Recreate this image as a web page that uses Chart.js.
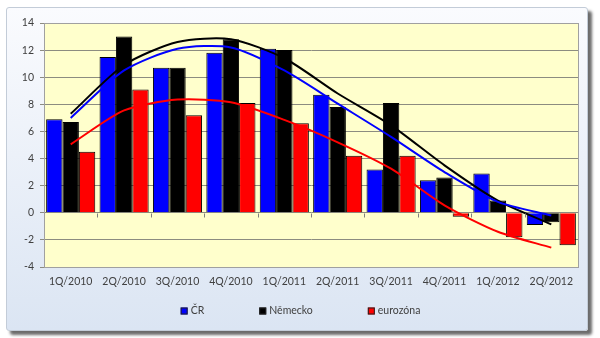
<!DOCTYPE html>
<html>
<head>
<meta charset="utf-8">
<script src="https://cdn.jsdelivr.net/npm/chart.js@4"></script>
<style>
  html, body { margin: 0; padding: 0; background: #fff; }
  #wrap { position: relative; width: 600px; height: 338px; }
  #frame {
    position: absolute; left: 6px; top: 7px; width: 580px; height: 322px;
    border: 1px solid #c3ccd8; border-radius: 3px;
    background: linear-gradient(#fafbfe, #dbe5f3);
    box-shadow: 4px 4px 3px #6b6b6b;
  }
  canvas { position: absolute; left: 0; top: 0; }
</style>
</head>
<body>
<div id="wrap">
  <div id="frame"></div>
  <canvas id="chart" width="600" height="338"></canvas>
</div>
<script>
// data
const categories = ['1Q/2010', '2Q/2010', '3Q/2010', '4Q/2010', '1Q/2011', '2Q/2011', '3Q/2011', '4Q/2011', '1Q/2012', '2Q/2012'];
const seriesNames = ['ČR', 'Německo', 'eurozóna'];
const crValues = [6.9, 11.5, 10.7, 11.8, 12.1, 8.7, 3.2, 2.4, 2.9, -0.9];
const nemeckoValues = [6.7, 13.0, 10.7, 12.8, 12.0, 7.8, 8.1, 2.6, 0.9, -0.7];
const eurozonaValues = [4.5, 9.1, 7.2, 8.1, 6.6, 4.2, 4.2, -0.3, -1.8, -2.4];
// trend lines as read at each category
const crTrend = [7.0, 10.5, 12.1, 12.2, 10.5, 8.05, 5.6, 3.0, 0.8, -0.2];
const nemeckoTrend = [7.3, 10.9, 12.6, 12.8, 11.4, 8.8, 6.45, 3.5, 0.9, -0.85];
const eurozonaTrend = [5.05, 7.55, 8.35, 8.15, 6.85, 5.2, 3.25, 0.55, -1.4, -2.57];
const yTicks = [-4, -2, 0, 2, 4, 6, 8, 10, 12, 14];

const colors = ['#0000ff', '#000000', '#ff0000'];
const fontFamily = 'Lato, "Open Sans", sans-serif';

const bar = (label, data, color) => ({
    type: 'bar', label, data,
    backgroundColor: color, borderColor: '#000', borderWidth: 1,
    categoryPercentage: 0.92, barPercentage: 1.0, order: 2
});
const trend = (data, color) => ({
    type: 'line', label: '', data,
    borderColor: color, borderWidth: 2, pointRadius: 0,
    tension: 0.25, fill: false, order: 1
});

// yellow plot area, x ticks on the zero line, legend
const plotBg = {
    id: 'plotBg',
    beforeDraw(chart) {
        const { ctx, chartArea: a } = chart;
        ctx.save();
        ctx.fillStyle = '#ffffcc';
        ctx.fillRect(a.left, a.top, a.right - a.left, a.bottom - a.top);
        ctx.restore();
    },
    afterDatasetsDraw(chart) {
        const { ctx, chartArea: a, scales } = chart;
        const y0 = Math.round(scales.y.getPixelForValue(0)) + 0.5;
        const step = (a.right - a.left) / categories.length;
        ctx.save();
        ctx.strokeStyle = '#808080';
        ctx.lineWidth = 1;
        ctx.beginPath();
        for (let i = 1; i < categories.length; i++) {
            const x = Math.round(a.left + step * i) + 0.5;
            ctx.moveTo(x, y0);
            ctx.lineTo(x, y0 + 4);
        }
        ctx.stroke();
        ctx.strokeStyle = '#a0a0a0';
        ctx.strokeRect(Math.round(a.left) + 0.5, Math.round(a.top) + 0.5,
            Math.round(a.right - a.left), Math.round(a.bottom - a.top));

        // legend
        ctx.font = '10.5px ' + fontFamily;
        ctx.textBaseline = 'middle';
        const gap = 54, box = 7;
        const widths = seriesNames.map(n => box + 4 + ctx.measureText(n).width);
        const total = widths.reduce((s, w) => s + w, 0) + gap * (seriesNames.length - 1);
        let x = 301 - total / 2;
        const ly = 311;
        seriesNames.forEach((n, i) => {
            ctx.fillStyle = colors[i];
            ctx.fillRect(x, ly - box / 2, box, box);
            ctx.strokeStyle = '#222';
            ctx.strokeRect(x + 0.5, ly - box / 2 + 0.5, box - 1, box - 1);
            ctx.fillStyle = '#404040';
            ctx.fillText(n, x + box + 3, ly);
            x += widths[i] + gap;
        });
        ctx.restore();
    }
};

new Chart(document.getElementById('chart'), {
    data: {
        labels: categories,
        datasets: [
            bar(seriesNames[0], crValues, colors[0]),
            bar(seriesNames[1], nemeckoValues, colors[1]),
            bar(seriesNames[2], eurozonaValues, colors[2]),
            trend(crTrend, colors[0]),
            trend(nemeckoTrend, colors[1]),
            trend(eurozonaTrend, colors[2])
        ]
    },
    options: {
        responsive: false,
        animation: false,
        layout: { padding: { left: 0, right: 22, top: 23, bottom: 51 } },
        plugins: {
            legend: { display: false },
            tooltip: { enabled: false }
        },
        scales: {
            x: {
                offset: true,
                grid: { display: false, drawTicks: false },
                border: { display: false },
                ticks: { color: '#404040', font: { family: fontFamily, size: 10.5 }, padding: 8, maxRotation: 0 },
                afterFit(scale) { scale.height = 20; }
            },
            y: {
                min: -4, max: 14,
                afterBuildTicks(scale) { scale.ticks = yTicks.map(v => ({ value: v })); },
                grid: { color: '#8c8c80', tickLength: 4 },
                border: { color: '#808080' },
                ticks: { color: '#404040', font: { family: fontFamily, size: 10.5 }, padding: 6 },
                afterFit(scale) { scale.width = 44; }
            }
        }
    },
    plugins: [plotBg]
});
</script>
</body>
</html>
